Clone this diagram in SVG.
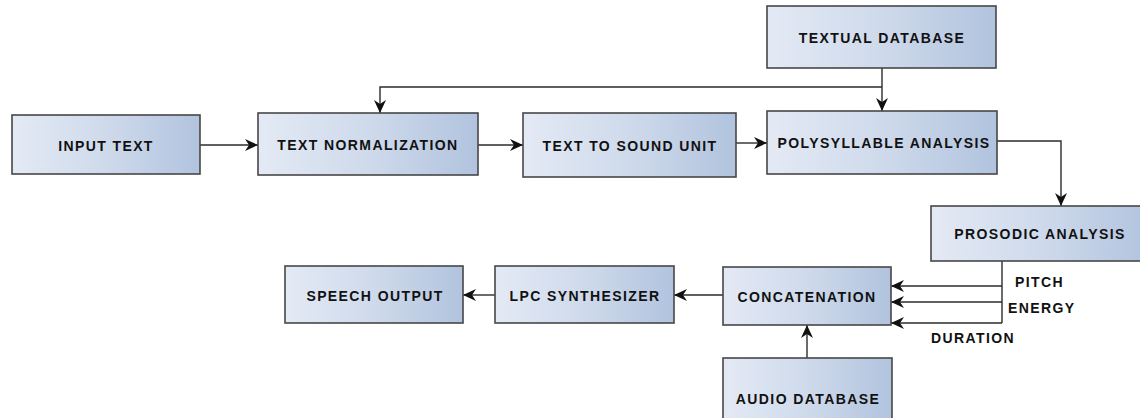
<svg xmlns="http://www.w3.org/2000/svg" width="1140" height="418" viewBox="0 0 1140 418">
  <defs>
    <linearGradient id="boxFill" x1="0" y1="0" x2="1" y2="0">
      <stop offset="0" stop-color="#e4eaf5"/>
      <stop offset="0.55" stop-color="#ccd8ea"/>
      <stop offset="1" stop-color="#b1c3de"/>
    </linearGradient>
    <marker id="arrow" markerUnits="userSpaceOnUse" markerWidth="14" markerHeight="12" refX="13" refY="6" orient="auto">
      <path d="M0,0 L13,6 L0,12 L4,6 Z" fill="#111"/>
    </marker>
    <style>
      .box { fill: url(#boxFill); stroke: #474747; stroke-width: 1.6; }
      .lbl { font-family: "Liberation Sans", Arial, sans-serif; font-weight: bold; font-size: 14px; letter-spacing: 1.4px; fill: #111; text-anchor: middle; }
      .tag { font-family: "Liberation Sans", Arial, sans-serif; font-weight: bold; font-size: 14px; letter-spacing: 1.4px; fill: #111; }
      .wire { fill: none; stroke: #2b2b2b; stroke-width: 1.4; }
      .arr { marker-end: url(#arrow); }
    </style>
  </defs>

  <rect width="1140" height="418" fill="#ffffff"/>

  <!-- signal flow -->
  <g id="connectors">
    <path class="wire arr" d="M200,145 H258"/>
    <path class="wire arr" d="M478,145 H523"/>
    <path class="wire arr" d="M736,143 H767"/>
    <path class="wire arr" d="M882,68 V111"/>
    <path class="wire arr" d="M882,87 H380 V113"/>
    <path class="wire arr" d="M997,141 H1061 V206"/>
    <path class="wire" d="M1002,261 V323"/>
    <path class="wire arr" d="M1002,286 H891"/>
    <path class="wire arr" d="M1002,302 H891"/>
    <path class="wire arr" d="M1002,323 H891"/>
    <path class="wire arr" d="M807,358 V325"/>
    <path class="wire arr" d="M723,295 H674"/>
    <path class="wire arr" d="M495,295 H463"/>
    <text class="tag" x="1015" y="287">PITCH</text>
    <text class="tag" x="1008" y="313">ENERGY</text>
    <text class="tag" x="931" y="343">DURATION</text>
  </g>

  <g id="input-text">
    <rect class="box" x="12" y="115" width="188" height="59"/>
    <text class="lbl" x="106" y="151">INPUT TEXT</text>
  </g>
  <g id="text-normalization">
    <rect class="box" x="258" y="113" width="220" height="62"/>
    <text class="lbl" x="368" y="150">TEXT NORMALIZATION</text>
  </g>
  <g id="text-to-sound-unit">
    <rect class="box" x="523" y="113" width="213" height="64"/>
    <text class="lbl" x="630" y="151">TEXT TO SOUND UNIT</text>
  </g>
  <g id="textual-database">
    <rect class="box" x="767" y="6" width="229" height="62"/>
    <text class="lbl" x="882" y="43">TEXTUAL DATABASE</text>
  </g>
  <g id="polysyllable-analysis">
    <rect class="box" x="767" y="111" width="230" height="63"/>
    <text class="lbl" x="884" y="148">POLYSYLLABLE ANALYSIS</text>
  </g>
  <g id="prosodic-analysis">
    <rect class="box" x="931" y="206" width="219" height="55"/>
    <text class="lbl" x="1040" y="239">PROSODIC ANALYSIS</text>
  </g>
  <g id="concatenation">
    <rect class="box" x="723" y="267" width="168" height="58"/>
    <text class="lbl" x="807" y="302">CONCATENATION</text>
  </g>
  <g id="audio-database">
    <rect class="box" x="723" y="358" width="169" height="82"/>
    <text class="lbl" x="808" y="404">AUDIO DATABASE</text>
  </g>
  <g id="lpc-synthesizer">
    <rect class="box" x="495" y="266" width="179" height="57"/>
    <text class="lbl" x="585" y="301">LPC SYNTHESIZER</text>
  </g>
  <g id="speech-output">
    <rect class="box" x="285" y="266" width="178" height="57"/>
    <text class="lbl" x="375" y="301">SPEECH OUTPUT</text>
  </g>
</svg>
